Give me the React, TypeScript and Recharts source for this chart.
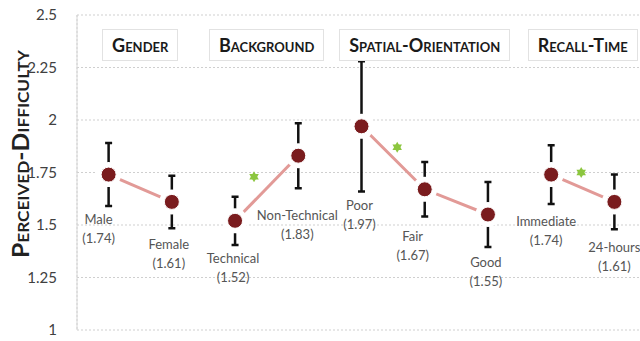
import React from 'react';
import { ComposedChart, Line, Scatter, XAxis, YAxis, CartesianGrid } from 'recharts';

// Values
const categories = ['Male', 'Female', 'Technical', 'Non-Technical', 'Poor', 'Fair', 'Good', 'Immediate', '24-hours'];
const means = [1.74, 1.61, 1.52, 1.83, 1.97, 1.67, 1.55, 1.74, 1.61];
const errors = [0.15, 0.125, 0.115, 0.155, 0.31, 0.13, 0.155, 0.14, 0.13];
const groupNames = ['Gender', 'Background', 'Spatial-Orientation', 'Recall-Time'];
const groupOf = [0, 0, 1, 1, 2, 2, 2, 3, 3];
// significance markers (x in category-slot units, y in difficulty)
const sigX = [5.6, 10.13, 15.95];
const sigY = [1.73, 1.87, 1.75];
const yTicks = [1, 1.25, 1.5, 1.75, 2, 2.25, 2.5];

const FONT = 'Lato, "Open Sans", sans-serif';
const MAROON = '#7a1c1e';
const PINK = '#e29a97';
const TITLE_Y = 2.357;

// small label nudges (px) to follow the hand-placed labels of the original
const labelNudge = [[-10, -2], [-3, 1], [-2, -2], [-1, 12], [-2, -1], [-12, 4], [-2, 0], [-5, 2], [0, 3]];

const rows = categories.map((name, i) => ({
  x: 2 * i + 1,
  y: means[i],
  name,
  idx: i,
}));

const groups = groupNames.map((g, gi) => rows.filter((r) => groupOf[r.idx] === gi));

// one two-point series per error bar (high end, low end)
const errRows = rows.map((r, i) => [
  { x: r.x, y: means[i] + errors[i] },
  { x: r.x, y: means[i] - errors[i] },
]);

const titleRows = groups.map((g, gi) => ({
  x: g.reduce((s, r) => s + r.x, 0) / g.length,
  y: TITLE_Y,
  name: groupNames[gi],
}));

const labelRows = rows.map((r, i) => ({ x: r.x, y: means[i] - errors[i], name: r.name, mean: r.y, idx: r.idx }));
const sigRows = sigX.map((x, i) => ({ x, y: sigY[i] }));
const xTicks = Array.from({ length: 19 }, (_, i) => i);

// marker with a white halo, so the line and the error bar stop short of it
const renderDot = (props: any) => {
  const { cx, cy, index } = props;
  if (cx == null || cy == null) return null;
  return (
    <g key={`dot-${index}-${cx}`}>
      <circle cx={cx} cy={cy} r={12.5} fill="#fff" />
      <circle cx={cx} cy={cy} r={7.5} fill={MAROON} stroke="#fff" strokeWidth={1} />
    </g>
  );
};

const Cap = (props: any) => {
  const { cx, cy } = props;
  return <line x1={cx - 3.5} x2={cx + 3.5} y1={cy} y2={cy} stroke="#111" strokeWidth={2.5} />;
};

const Star = (props: any) => {
  const { cx, cy } = props;
  const r = 5.5;
  const tri = (rot: number) =>
    [0, 1, 2]
      .map((k) => {
        const a = rot + (k * 2 * Math.PI) / 3;
        return `${cx + r * Math.sin(a)},${cy - r * Math.cos(a)}`;
      })
      .join(' ');
  return (
    <g>
      <polygon points={tri(0)} fill="#8cc63f" />
      <polygon points={tri(Math.PI)} fill="#8cc63f" />
    </g>
  );
};

const CatLabel = (props: any) => {
  const { cx, cy, payload } = props;
  const [dx, dy] = labelNudge[payload.idx];
  const x = cx + dx;
  const y = cy + 20 + dy;
  return (
    <g>
      <text x={x} y={y} textAnchor="middle" fontFamily={FONT} fontSize={13} fill="#555">
        {payload.name}
      </text>
      <text x={x} y={y + 19} textAnchor="middle" fontFamily={FONT} fontSize={13} fill="#555">
        ({payload.mean.toFixed(2)})
      </text>
    </g>
  );
};

const GroupTitle = (props: any) => {
  const { cx, cy, payload } = props;
  return (
    <foreignObject x={cx - 110} y={cy - 20} width={220} height={40}>
      <div style={{ display: 'flex', justifyContent: 'center', alignItems: 'center', height: '100%' }}>
        <span
          style={{
            border: '1px solid #e2e2e2',
            background: '#fff',
            padding: '5px 9px',
            fontFamily: FONT,
            fontWeight: 700,
            fontVariant: 'small-caps',
            fontSize: 18,
            lineHeight: '20px',
            color: '#1a1a1a',
            whiteSpace: 'nowrap',
          }}
        >
          {payload.name}
        </span>
      </div>
    </foreignObject>
  );
};

export default function App() {
  return (
    <div style={{ position: 'absolute', left: 0, top: 0, width: 640, height: 341, overflow: 'hidden', background: '#fff' }}>
      <ComposedChart width={660} height={341} margin={{ top: 15, right: 14, bottom: 11, left: 0 }}>
        <CartesianGrid stroke="#cfcfcf" strokeDasharray="2 2" />
        <XAxis
          dataKey="x"
          type="number"
          domain={[0, 18]}
          ticks={xTicks}
          height={0}
          tick={false}
          axisLine={false}
          tickLine={false}
        />
        <YAxis
          type="number"
          domain={[1, 2.5]}
          ticks={yTicks}
          allowDataOverflow
          width={77}
          axisLine={{ stroke: '#d6d6d6' }}
          tickLine={false}
          tickSize={0}
          tickMargin={20}
          tick={{ fill: '#404040', fontSize: 15, fontFamily: FONT }}
          label={{
            content: () => (
              <text
                x={29}
                y={154}
                transform="rotate(-90 29 154)"
                textAnchor="middle"
                fontFamily={FONT}
                fontWeight={700}
                fontSize={23}
                fill="#222"
                style={{ fontVariant: 'small-caps' }}
                textLength={208}
                lengthAdjust="spacingAndGlyphs"
              >
                Perceived-Difficulty
              </text>
            ),
          }}
        />
        {errRows.map((d, i) => (
          <Scatter
            key={`err-${i}`}
            data={d}
            dataKey="y"
            shape={Cap}
            line={{ stroke: '#111', strokeWidth: 2.5 }}
            lineType="joint"
            isAnimationActive={false}
          />
        ))}
        <Scatter data={sigRows} dataKey="y" shape={Star} isAnimationActive={false} />
        <Scatter data={labelRows} dataKey="y" shape={CatLabel} isAnimationActive={false} />
        <Scatter data={titleRows} dataKey="y" shape={GroupTitle} isAnimationActive={false} />
        {groups.map((g, gi) => (
          <Line
            key={groupNames[gi]}
            data={g}
            dataKey="y"
            stroke={PINK}
            strokeWidth={3}
            dot={renderDot}
            activeDot={false}
            isAnimationActive={false}
          />
        ))}
      </ComposedChart>
    </div>
  );
}
